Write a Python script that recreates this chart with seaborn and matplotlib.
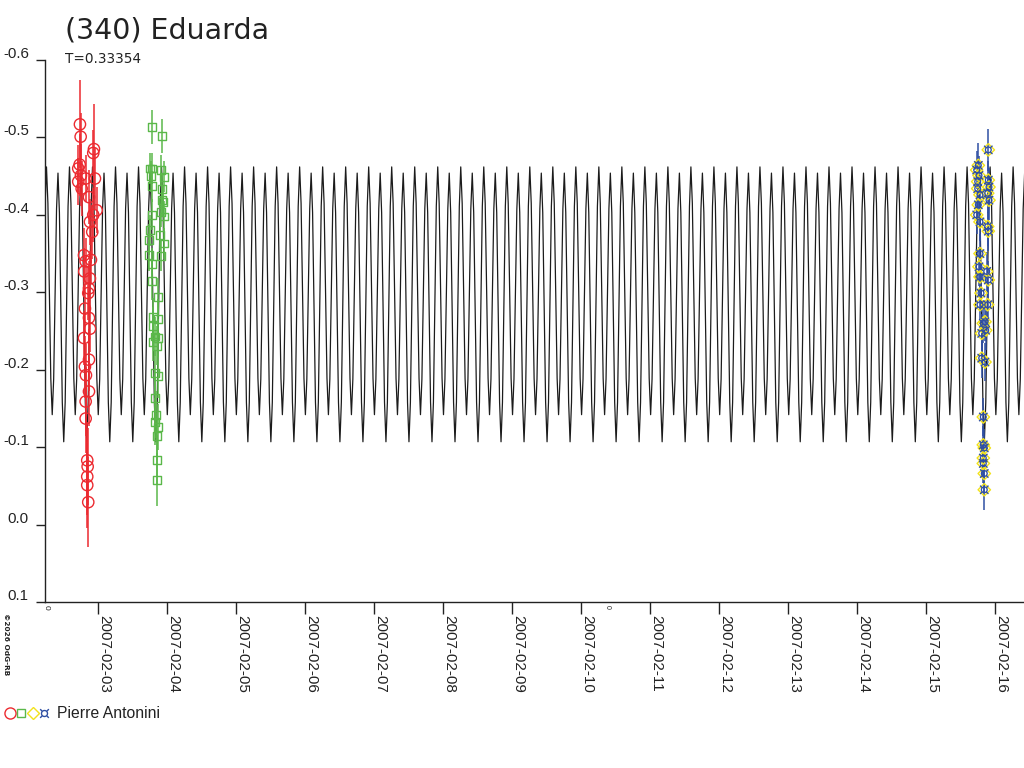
"""
(340) Eduarda lightcurve - model curve with three observing sessions
"""

import numpy as np
import pandas as pd
import matplotlib
matplotlib.use("Agg")
import matplotlib.pyplot as plt
from matplotlib.lines import Line2D
from matplotlib.transforms import ScaledTranslation
import seaborn as sns

# ---- data ----
TITLE = "(340) Eduarda"
PERIOD = 0.33354  # days
EPOCH = "2007-02-06 06:03"  # one primary maximum of the model curve

# one period of the model curve, starting at the primary maximum
cycle_phase = [0.0, 0.0625, 0.125, 0.1875, 0.25, 0.3125, 0.375, 0.4375,
               0.5, 0.5625, 0.625, 0.6875, 0.75, 0.8125, 0.875, 0.9375]
cycle_mag = [-0.462, -0.415, -0.302, -0.189, -0.142, -0.188, -0.298, -0.408,
             -0.454, -0.403, -0.281, -0.158, -0.107, -0.158, -0.285, -0.411]

# session 1: 2007-02-02 (hours UT)
red_hours = [17.63, 17.88, 22.50, 22.26, 17.53, 17.04, 17.98, 19.62, 17.04, 22.85,
             18.23, 20.77, 23.44, 22.26, 21.11, 21.91, 19.03, 19.62, 21.46, 19.13,
             21.11, 20.77, 20.52, 19.37, 20.77, 21.11, 19.03, 20.77, 19.37, 19.72,
             20.77, 19.62, 19.62, 20.17, 20.31, 20.17, 20.17, 20.52]
red_mag = [-0.517, -0.501, -0.485, -0.480, -0.465, -0.460, -0.451, -0.447, -0.443, -0.447,
           -0.434, -0.423, -0.406, -0.400, -0.391, -0.378, -0.348, -0.340, -0.342, -0.327,
           -0.318, -0.305, -0.299, -0.279, -0.267, -0.253, -0.241, -0.213, -0.204, -0.193,
           -0.172, -0.159, -0.137, -0.083, -0.075, -0.062, -0.051, -0.029]
red_err = [0.057, 0.030, 0.058, 0.030, 0.040, 0.030, 0.040, 0.030, 0.030, 0.040,
           0.035, 0.035, 0.030, 0.035, 0.030, 0.035, 0.035, 0.030, 0.030, 0.030,
           0.035, 0.035, 0.035, 0.030, 0.035, 0.030, 0.035, 0.040, 0.040, 0.040,
           0.045, 0.045, 0.045, 0.050, 0.050, 0.050, 0.055, 0.058]

# session 2: 2007-02-03
green_hours = [18.57, 22.05, 17.98, 18.78, 21.81, 22.96, 18.23, 22.05, 18.57, 22.05,
               22.61, 18.57, 21.70, 22.96, 17.98, 17.74, 21.46, 22.85, 17.74, 21.70,
               18.78, 18.78, 20.87, 19.13, 20.87, 19.13, 19.72, 20.66, 19.13, 20.31,
               19.72, 20.66, 19.72, 20.07, 19.72, 20.66, 20.31, 20.31, 20.31]
green_mag = [-0.513, -0.502, -0.460, -0.460, -0.458, -0.449, -0.450, -0.434, -0.437, -0.419,
             -0.417, -0.400, -0.404, -0.398, -0.380, -0.368, -0.374, -0.363, -0.348, -0.347,
             -0.337, -0.315, -0.294, -0.268, -0.266, -0.256, -0.243, -0.241, -0.236, -0.231,
             -0.196, -0.192, -0.163, -0.142, -0.133, -0.126, -0.114, -0.084, -0.058]
green_err = [0.022, 0.022, 0.020, 0.020, 0.020, 0.020, 0.020, 0.020, 0.020, 0.020,
             0.020, 0.020, 0.020, 0.020, 0.020, 0.020, 0.020, 0.020, 0.020, 0.020,
             0.020, 0.025, 0.025, 0.025, 0.025, 0.025, 0.025, 0.025, 0.025, 0.025,
             0.028, 0.028, 0.028, 0.030, 0.030, 0.030, 0.030, 0.032, 0.034]

# session 3: 2007-02-15
blue_hours = [21.57, 18.09, 17.53, 18.33, 17.88, 21.57, 21.81, 17.88, 18.68, 21.36,
              21.81, 18.09, 17.53, 18.68, 21.36, 21.57, 18.68, 18.33, 21.01, 18.68,
              21.57, 19.03, 18.68, 21.36, 20.42, 19.83, 19.27, 20.66, 19.27, 20.42,
              19.83, 19.83, 20.17, 19.83, 19.83, 20.17, 20.17]
blue_mag = [-0.484, -0.464, -0.458, -0.451, -0.443, -0.445, -0.436, -0.434, -0.426, -0.428,
            -0.419, -0.413, -0.400, -0.391, -0.385, -0.379, -0.350, -0.333, -0.327, -0.320,
            -0.316, -0.299, -0.284, -0.284, -0.262, -0.260, -0.247, -0.251, -0.215, -0.210,
            -0.139, -0.103, -0.099, -0.086, -0.079, -0.066, -0.045]
blue_err = [0.027, 0.029, 0.025, 0.025, 0.025, 0.025, 0.025, 0.025, 0.025, 0.025,
            0.025, 0.025, 0.025, 0.025, 0.025, 0.025, 0.025, 0.025, 0.025, 0.025,
            0.025, 0.025, 0.025, 0.025, 0.025, 0.025, 0.025, 0.025, 0.025, 0.025,
            0.025, 0.025, 0.025, 0.025, 0.025, 0.025, 0.026]

date_ticks = ["2007-02-03", "2007-02-04", "2007-02-05", "2007-02-06", "2007-02-07",
              "2007-02-08", "2007-02-09", "2007-02-10", "2007-02-11", "2007-02-12",
              "2007-02-13", "2007-02-14", "2007-02-15", "2007-02-16"]
ytick_vals = [-0.6, -0.5, -0.4, -0.3, -0.2, -0.1, 0.0, 0.1]
ytick_labels = ["-0.6", "-0.5", "-0.4", "-0.3", "-0.2", "-0.1", "0.0", "0.1"]

RED = "#ec2a30"
GREEN = "#5bb84a"
YELLOW = "#f2e21c"
BLUE = "#2f4fa3"


def session(day, hours, mag, err):
    t = pd.Timestamp(day) + pd.to_timedelta(hours, unit="h")
    return pd.DataFrame({"time": t, "mag": mag, "err": err})


def model_curve(start, end):
    # repeat the single measured cycle with the period shown in the chart
    epoch = pd.Timestamp(EPOCH)
    k0 = int(np.floor((start - epoch) / pd.Timedelta(days=PERIOD))) - 1
    k1 = int(np.ceil((end - epoch) / pd.Timedelta(days=PERIOD))) + 1
    rows = []
    for k in range(k0, k1 + 1):
        for ph, m in zip(cycle_phase, cycle_mag):
            rows.append((epoch + pd.Timedelta(days=(k + ph) * PERIOD), m))
    return pd.DataFrame(rows, columns=["time", "mag"])


def main():
    sns.set_theme(style="white")
    plt.rcParams["font.family"] = ["Liberation Sans", "DejaVu Sans"]

    fig = plt.figure(figsize=(10.24, 7.68), dpi=100)
    ax = fig.add_axes([0.0444, 0.2161, 0.9556, 0.7057])

    day0 = pd.Timestamp("2007-02-03")
    xmin = day0 - pd.Timedelta(days=0.765)
    xmax = day0 + pd.Timedelta(days=13.416)

    curve = model_curve(xmin, xmax)
    sns.lineplot(data=curve, x="time", y="mag", estimator=None, sort=False,
                 color="#1c1c1c", lw=0.9, ax=ax)

    red = session("2007-02-02", red_hours, red_mag, red_err)
    green = session("2007-02-03", green_hours, green_mag, green_err)
    blue = session("2007-02-15", blue_hours, blue_mag, blue_err)

    for df, col in [(red, RED), (green, GREEN), (blue, BLUE)]:
        ax.vlines(df["time"], df["mag"] - df["err"], df["mag"] + df["err"],
                  color=col, lw=1.1, zorder=3)

    sns.scatterplot(data=red, x="time", y="mag", marker="o", s=66, color=RED,
                    fc="none", ec=RED, lw=1.0, ax=ax, zorder=4)
    sns.scatterplot(data=green, x="time", y="mag", marker="s", s=32, color=GREEN,
                    fc="none", ec=GREEN, lw=1.0, ax=ax, zorder=4)
    sns.scatterplot(data=blue, x="time", y="mag", marker="D", s=40, color=YELLOW,
                    fc="none", ec=YELLOW, lw=1.0, ax=ax, zorder=4)
    sns.scatterplot(data=blue, x="time", y="mag", marker="$¤$", s=45, color=BLUE,
                    ec="none", ax=ax, zorder=5)

    ax.set_xlim(xmin, xmax)
    ax.set_ylim(0.1, -0.6)

    ax.set_xticks(pd.to_datetime(date_ticks), date_ticks)
    ax.set_yticks(ytick_vals, ytick_labels)
    ax.set_xlabel("")
    ax.set_ylabel("")

    for s in ["top", "right"]:
        ax.spines[s].set_visible(False)
    for s in ["left", "bottom"]:
        ax.spines[s].set_color("#222222")
        ax.spines[s].set_linewidth(1.0)

    ax.tick_params(axis="x", direction="out", length=8.6, width=1.0,
                   color="#222222", pad=1, labelsize=11, labelcolor="#222222")
    ax.tick_params(axis="y", direction="out", length=6.5, width=1.0,
                   color="#222222", pad=5.5, labelsize=10.8, labelcolor="#222222")
    ax.tick_params(bottom=True, left=True)

    xshift = ScaledTranslation(-1.5 / 100, 0, fig.dpi_scale_trans)
    for lab in ax.get_xticklabels():
        lab.set_rotation(-90)
        lab.set_ha("left")
        lab.set_va("top")
        lab.set_transform(lab.get_transform() + xshift)
    shift = ScaledTranslation(0, 2 / 100, fig.dpi_scale_trans)
    for lab in ax.get_yticklabels():
        lab.set_va("baseline")
        lab.set_transform(lab.get_transform() + shift)

    # titles
    fig.text(65 / 1024, 1 - 39 / 768, TITLE, fontsize=20.5, color="#222222",
             family="DejaVu Sans", va="baseline", ha="left")
    fig.text(65 / 1024, 1 - 63 / 768, f"T={PERIOD}", fontsize=9.8, color="#222222",
             family="DejaVu Sans", va="baseline", ha="left")

    # small marks under the axis
    fig.text(46 / 1024, 1 - 607 / 768, "0", fontsize=6, rotation=-90,
             ha="center", va="center", color="#222222")
    fig.text(607 / 1024, 1 - 607 / 768, "0", fontsize=5, rotation=-90,
             ha="center", va="center", color="#222222")
    fig.text(6 / 1024, 1 - 644 / 768, "©2026 OdG-RB", fontsize=5.3, rotation=-90,
             ha="center", va="center", color="#222222", weight="bold",
             family="DejaVu Sans")

    # legend row
    ly = 1 - 713 / 768
    for x, mk, ms, col in [(10, "o", 8, RED), (21, "s", 5.5, GREEN),
                           (33, "D", 6, YELLOW), (44, "$¤$", 7, BLUE)]:
        filled = mk.startswith("$")
        fig.add_artist(Line2D([x / 1024], [ly], transform=fig.transFigure,
                              marker=mk, ms=ms, ls="none", mew=1.0,
                              mfc=col if filled else "none",
                              mec="none" if filled else col))
    fig.text(57 / 1024, ly, "Pierre Antonini", fontsize=11.3, color="#222222",
             va="center", ha="left")

    fig.savefig("out.png", dpi=100)
    plt.close(fig)


if __name__ == "__main__":
    main()
